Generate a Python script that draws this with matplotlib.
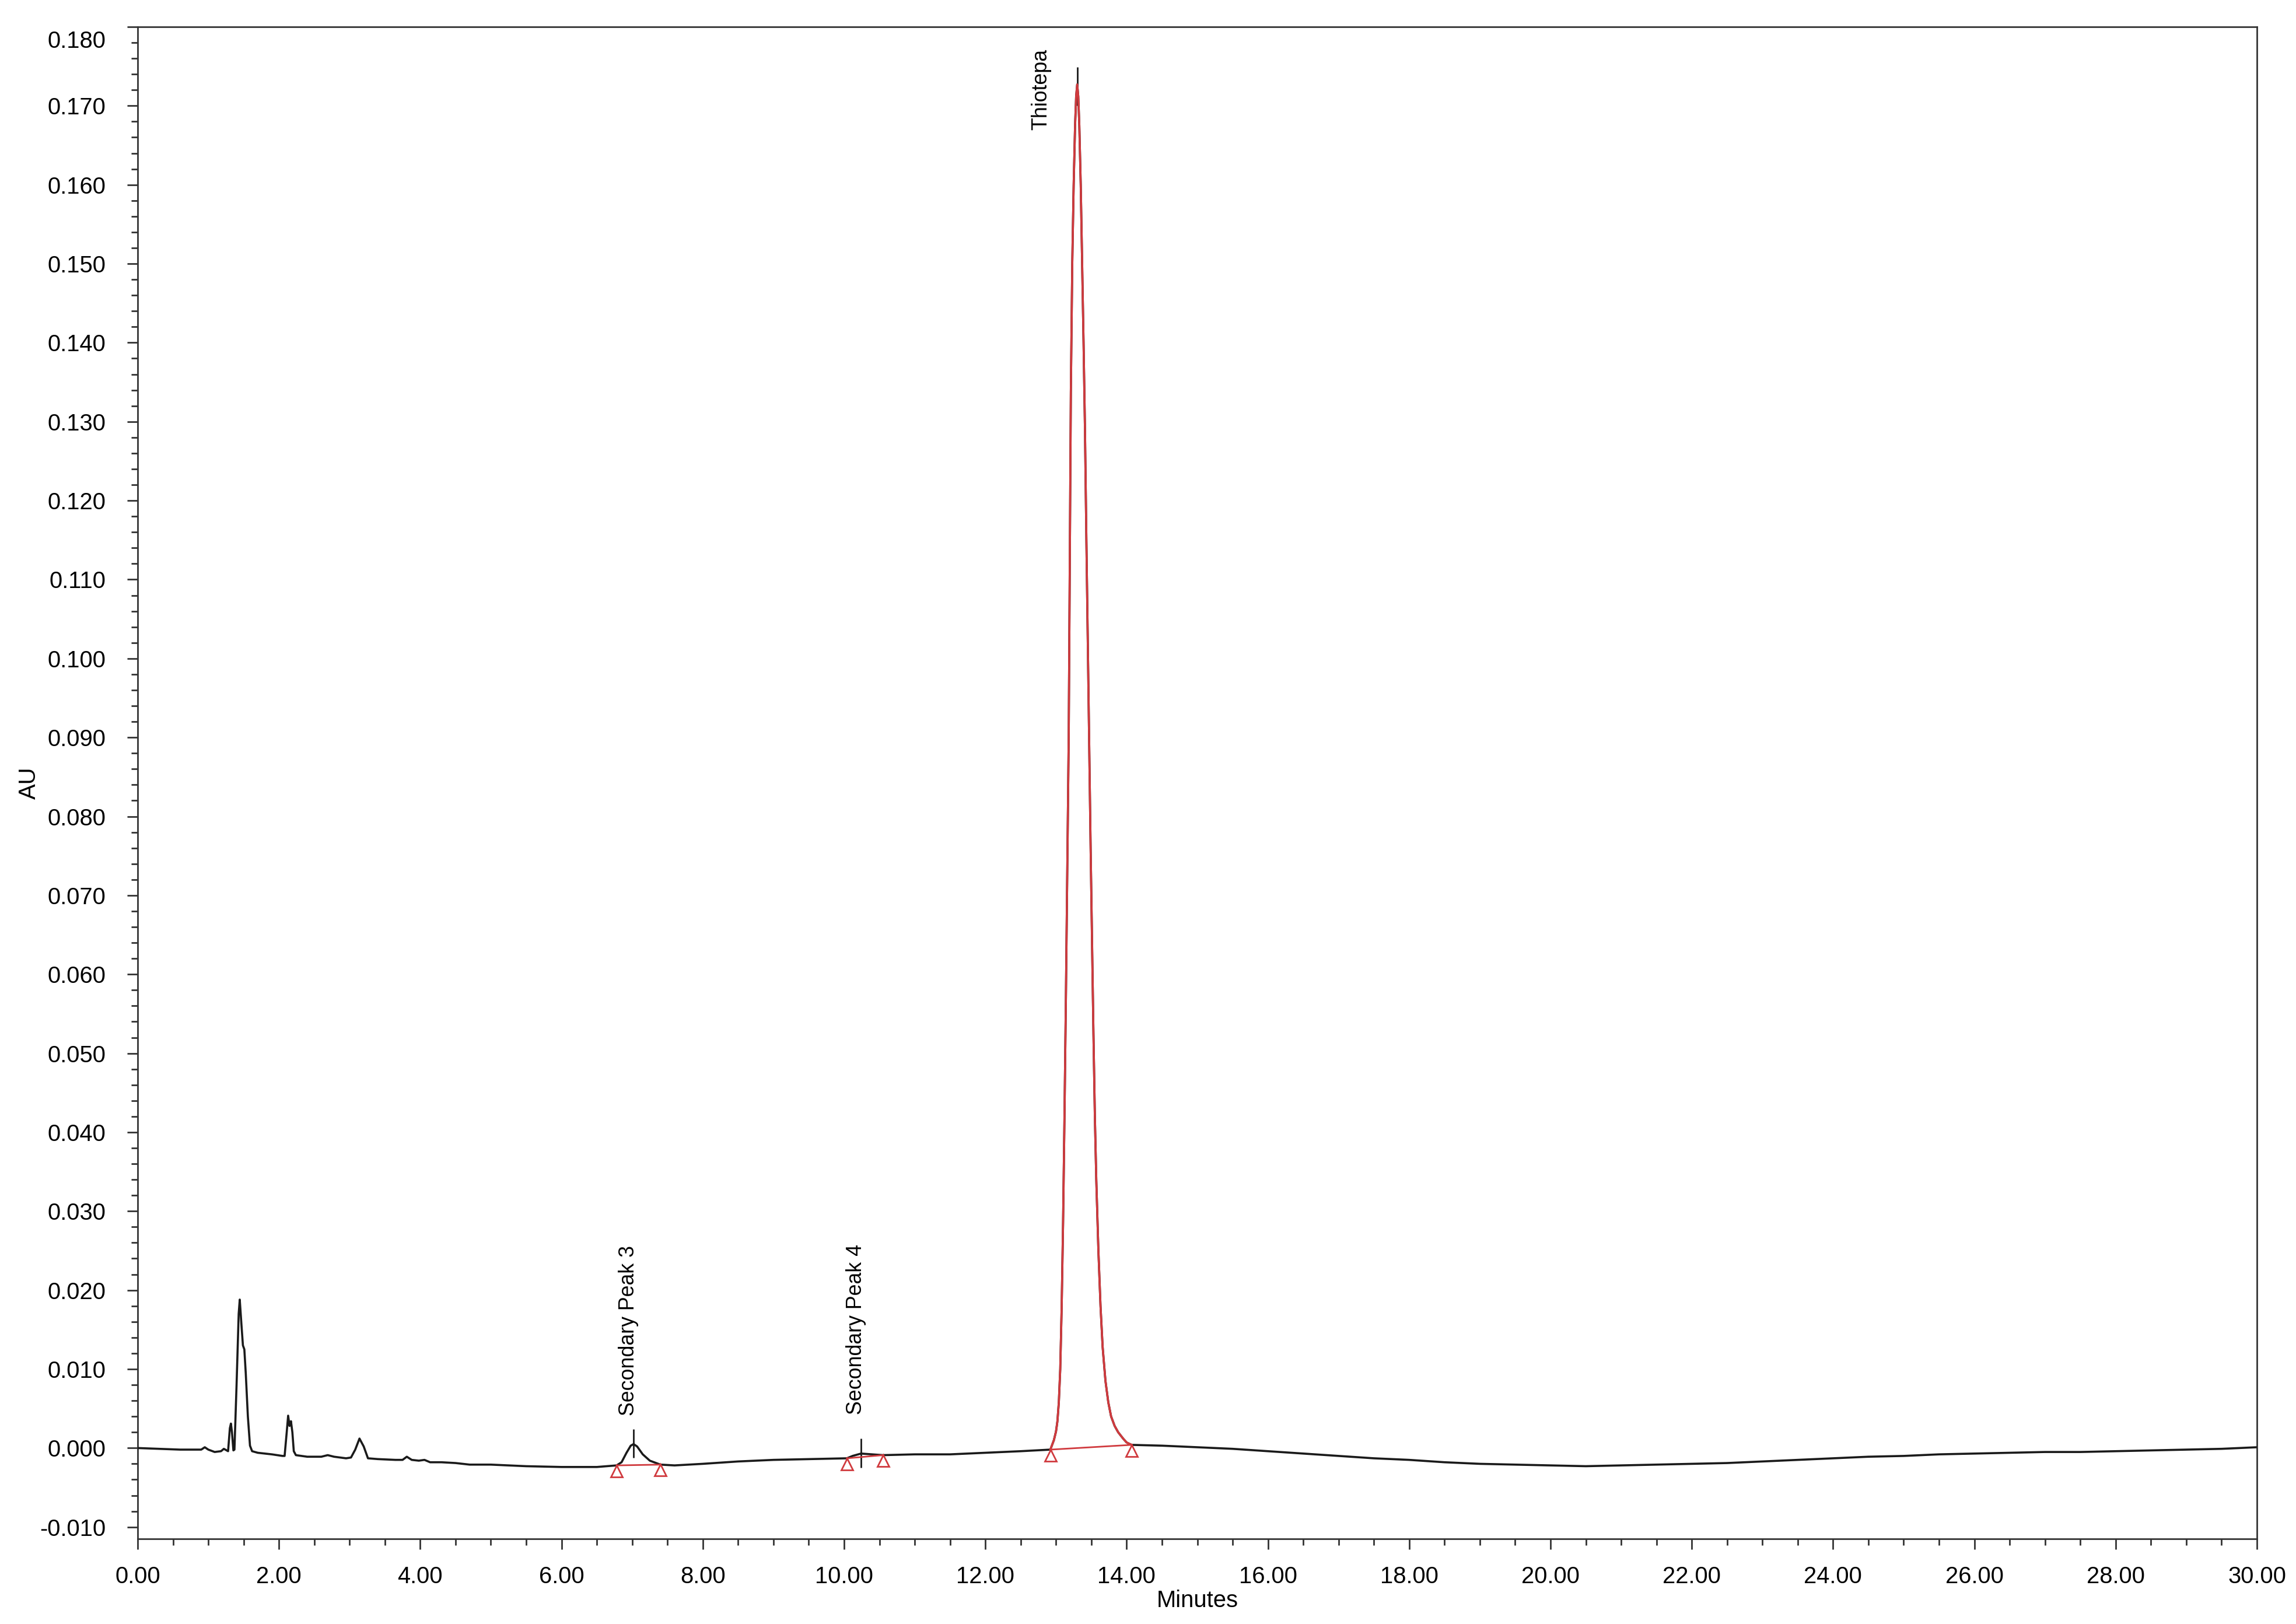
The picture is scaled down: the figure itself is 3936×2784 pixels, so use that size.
import matplotlib
matplotlib.use("Agg")
import matplotlib.pyplot as plt
import matplotlib.transforms as mtransforms
from matplotlib.ticker import MultipleLocator, FuncFormatter
import numpy as np

# ---------------- data ----------------
TIME_MIN = [
    0.00, 0.30, 0.60, 0.90, 0.95, 1.00, 1.09, 1.18, 1.22, 1.26,
    1.28, 1.305, 1.32, 1.335, 1.355, 1.37, 1.40, 1.43, 1.445, 1.47,
    1.49, 1.51, 1.53, 1.56, 1.59, 1.62, 1.70, 1.90, 2.05, 2.08,
    2.11, 2.13, 2.15, 2.17, 2.19, 2.21, 2.24, 2.40, 2.60, 2.69,
    2.78, 2.95, 3.02, 3.08, 3.14, 3.20, 3.26, 3.40, 3.65, 3.75,
    3.81, 3.88, 3.98, 4.06, 4.14, 4.30, 4.50, 4.70, 5.00, 5.50,
    6.00, 6.50, 6.78, 6.85, 6.92, 6.98, 7.02, 7.07, 7.15, 7.25,
    7.40, 7.60, 8.00, 8.50, 9.00, 9.50, 10.04, 10.12, 10.24, 10.40,
    10.55, 11.00, 11.50, 12.00, 12.50, 12.92, 12.97, 13.00, 13.02, 13.04,
    13.06, 13.08, 13.10, 13.12, 13.14, 13.16, 13.18, 13.195, 13.21, 13.23,
    13.25, 13.27, 13.285, 13.30, 13.315, 13.33, 13.35, 13.37, 13.39, 13.41,
    13.43, 13.45, 13.47, 13.49, 13.51, 13.53, 13.55, 13.57, 13.60, 13.63,
    13.66, 13.70, 13.74, 13.78, 13.83, 13.88, 13.95, 14.00, 14.07, 14.50,
    15.00, 15.50, 16.00, 16.50, 17.00, 17.50, 18.00, 18.50, 19.00, 19.50,
    20.00, 20.50, 21.00, 21.50, 22.00, 22.50, 23.00, 23.50, 24.00, 24.50,
    25.00, 25.50, 26.00, 26.50, 27.00, 27.50, 28.00, 28.50, 29.00, 29.50,
    30.00,
]
ABSORBANCE_AU = [
    0.0000, -0.0001, -0.0002, -0.0002, 0.0001, -0.0002, -0.0005, -0.0004, -0.0001, -0.0003,
    -0.0004, 0.0025, 0.0031, 0.0020, -0.0003, -0.0002, 0.0080, 0.0170, 0.0188, 0.0155,
    0.0130, 0.0125, 0.0095, 0.0040, 0.0003, -0.0004, -0.0006, -0.0008, -0.0010, -0.0010,
    0.0020, 0.0041, 0.0028, 0.0034, 0.0020, -0.0004, -0.0009, -0.0011, -0.0011, -0.0009,
    -0.0011, -0.0013, -0.0012, -0.0002, 0.0012, 0.0002, -0.0013, -0.0014, -0.0015, -0.0015,
    -0.0011, -0.0015, -0.0016, -0.0015, -0.0018, -0.0018, -0.0019, -0.0021, -0.0021, -0.0023,
    -0.0024, -0.0024, -0.0022, -0.0018, -0.0006, 0.0003, 0.0005, 0.0002, -0.0008, -0.0016,
    -0.0021, -0.0022, -0.0020, -0.0017, -0.0015, -0.0014, -0.0013, -0.0010, -0.0007, -0.0008,
    -0.0009, -0.0008, -0.0008, -0.0006, -0.0004, -0.0002, 0.0010, 0.0021, 0.0034, 0.0058,
    0.0100, 0.0178, 0.0285, 0.0420, 0.0570, 0.0735, 0.0902, 0.1120, 0.1337, 0.1500,
    0.1600, 0.1675, 0.1712, 0.1727, 0.1712, 0.1675, 0.1600, 0.1500, 0.1400, 0.1290,
    0.1150, 0.1020, 0.0890, 0.0760, 0.0640, 0.0525, 0.0420, 0.0340, 0.0250, 0.0180,
    0.0128, 0.0085, 0.0058, 0.0040, 0.0028, 0.0020, 0.0012, 0.0007, 0.0004, 0.0003,
    0.0001, -0.0001, -0.0004, -0.0007, -0.0010, -0.0013, -0.0015, -0.0018, -0.0020, -0.0021,
    -0.0022, -0.0023, -0.0022, -0.0021, -0.0020, -0.0019, -0.0017, -0.0015, -0.0013, -0.0011,
    -0.0010, -0.0008, -0.0007, -0.0006, -0.0005, -0.0005, -0.0004, -0.0003, -0.0002, -0.0001,
    0.0001,
]

# integrated main peak (drawn red)
MAIN_PEAK_START = 12.92
MAIN_PEAK_END = 14.07

# integration baseline end points (red triangles)
BASE_START_T = [6.78, 10.04, 12.92]
BASE_START_Y = [-0.0022, -0.0013, -0.0002]
BASE_END_T = [7.40, 10.55, 14.07]
BASE_END_Y = [-0.0021, -0.0009, 0.0004]

# peak apex markers and labels
PEAK_NAMES = ["Secondary Peak 3", "Secondary Peak 4", "Thiotepa"]
PEAK_RT = [7.02, 10.24, 13.30]
MARK_TOP = [0.0024, 0.0012, 0.1749]
MARK_BOT = [-0.0012, -0.0025, 0.1700]
LABEL_X = [6.95, 10.17, 12.79]
LABEL_Y = [0.0041, 0.0042, 0.1669]

# ---------------- figure ----------------
plt.rcParams["font.family"] = ["Liberation Sans", "DejaVu Sans"]
DPI = 200
fig = plt.figure(figsize=(3936 / DPI, 2784 / DPI), dpi=DPI)
ax = fig.add_axes([236 / 3936, 146 / 2784, 3633 / 3936, 2592 / 2784])

t = np.array(TIME_MIN)
y = np.array(ABSORBANCE_AU)

TRACE = "#1a1a1a"
RED = "#d03a3e"

ax.plot(t, y, color=TRACE, lw=1.3, zorder=3, solid_joinstyle="round")
mask = (t >= MAIN_PEAK_START) & (t <= MAIN_PEAK_END)
ax.plot(t[mask], y[mask], color=RED, lw=1.3, zorder=4, solid_joinstyle="round")

# integration baselines
for t0, y0, t1, y1 in zip(BASE_START_T, BASE_START_Y, BASE_END_T, BASE_END_Y):
    ax.plot([t0, t1], [y0, y1], color=RED, lw=1.0, zorder=4)

# triangles with apex on the baseline point
ms = 7.0
tri_tr = ax.transData + mtransforms.ScaledTranslation(0, -ms / 2 / 72, fig.dpi_scale_trans)
ax.plot(BASE_START_T + BASE_END_T, BASE_START_Y + BASE_END_Y, linestyle="none",
        marker="^", markersize=ms, markerfacecolor="none", markeredgecolor=RED,
        markeredgewidth=1.0, transform=tri_tr, zorder=5, clip_on=False)

# apex marker lines
ax.vlines(PEAK_RT, MARK_BOT, MARK_TOP, colors=TRACE, lw=1.0, zorder=2)

# peak labels
for name, lx, ly in zip(PEAK_NAMES, LABEL_X, LABEL_Y):
    ax.text(lx, ly, name, rotation=90, ha="center", va="bottom",
            fontsize=12.9, color="black", zorder=6)

# ---------------- axes styling ----------------
ax.set_xlim(0, 30)
ax.set_ylim(-0.0115, 0.180)

ax.xaxis.set_major_locator(MultipleLocator(2))
ax.xaxis.set_minor_locator(MultipleLocator(0.5))
ax.yaxis.set_major_locator(MultipleLocator(0.010))
ax.yaxis.set_minor_locator(MultipleLocator(0.002))
ax.xaxis.set_major_formatter(FuncFormatter(lambda v, p: f"{v:.2f}"))
ax.yaxis.set_major_formatter(FuncFormatter(lambda v, p: f"{round(v, 3) + 0.0:.3f}"))

for s in ax.spines.values():
    s.set_color("#333333")
    s.set_linewidth(1.0)

ax.tick_params(axis="both", which="major", direction="out", length=6.5, width=1.0,
               color="#333333", labelsize=14.4, labelcolor="black")
ax.tick_params(axis="both", which="minor", direction="out", length=4.0, width=1.0,
               color="#333333")
ax.tick_params(axis="x", which="major", pad=10)
ax.tick_params(axis="y", which="major", pad=13)

ax.set_xlabel("Minutes", fontsize=14.4)
ax.set_ylabel("AU", fontsize=14.4)
ax.xaxis.set_label_coords(0.5, -0.0409)
ax.xaxis.label.set_va("center")
ax.yaxis.set_label_coords(-0.0512, 0.5)
ax.yaxis.label.set_va("center")

fig.canvas.draw()
# the top y-label sits slightly below its tick in the reference
for tk in ax.yaxis.get_major_ticks():
    if abs(tk.get_loc() - 0.180) < 1e-9:
        tk.label1.set_transform(tk.label1.get_transform() +
                                mtransforms.ScaledTranslation(0, -21 / DPI, fig.dpi_scale_trans))

fig.savefig("out.png", dpi=DPI, facecolor="white")
